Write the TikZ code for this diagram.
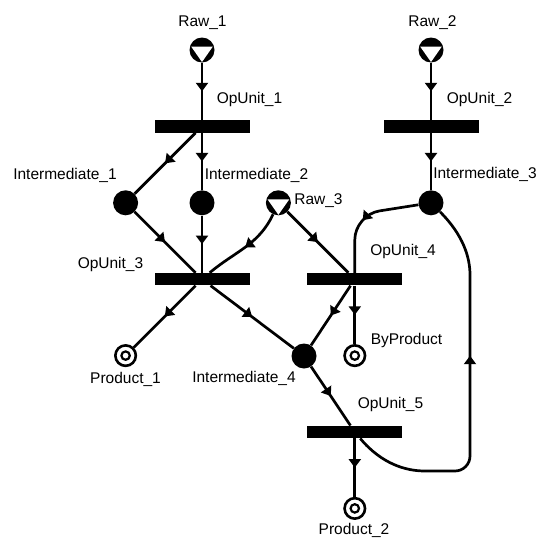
\documentclass[tikz,border=0pt]{standalone}
\usepackage{fontspec}
\setmainfont{Liberation Sans}
\usetikzlibrary{arrows.meta,decorations.markings,calc}

\begin{document}
\begin{tikzpicture}[x=1pt,y=1pt,node distance=76.4pt,
	raw/.style = {circle, fill=black, minimum size=25pt, inner sep=0pt,
		path picture={\fill[white] ([shift={(-10.8pt,3.4pt)}]path picture bounding box.center) -- ++(21.6pt,0) -- ([shift={(0,-12pt)}]path picture bounding box.center) -- cycle;}},
	inter/.style = {circle, fill=black, minimum size=25pt, inner sep=0pt},
	prod/.style = {circle, draw, line width=2.6pt, minimum size=20.5pt, inner sep=0pt,
		path picture={\draw[line width=2.2pt] (path picture bounding box.center) circle (4.2pt);}},
	unit/.style = {rectangle, fill=black, minimum width=95pt, minimum height=12.5pt, inner sep=0pt},
	txt/.style = {font=\fontsize{15.5}{18}\selectfont, anchor=base, inner sep=0pt},
	flow/.style = {line width=2.7pt, decoration={markings, mark=at position #1 with {\arrow{Triangle[width=12pt,length=8.5pt]}}}, postaction={decorate}},
	flow/.default=0.5]
	\useasboundingbox (0,0) rectangle (538,-538);
	\node[raw] (raw1) at (202,-50) {};
	\node[unit, below of=raw1] (op1) {};
	\node[inter, below of=op1] (int2) {};
	\node[inter, left of=int2] (int1) {};
	\node[raw, right of=int2] (raw3) {};
	\node[unit, below of=int2] (op3) {};
	\node[unit, right of=op3, xshift=76.4pt] (op4) {};
	\node[prod, below of=op4] (byprod) {};
	\node[unit, below of=byprod] (op5) {};
	\node[prod, below of=op5] (prod2) {};
	\node[prod, below of=int1, yshift=-76.4pt] (prod1) {};
	\node[inter] (int4) at (304,-356) {};
	\node[raw] (raw2) at (431,-50) {};
	\node[unit, below of=raw2] (op2) {};
	\node[inter, below of=op2] (int3) {};
	% labels
	\node[txt] (lraw1) at (202.5,-26.5) {Raw\_1};
	\node[txt] (lraw2) at (432.5,-26.5) {Raw\_2};
	\node[txt] (lraw3) at (318.5,-204.5) {Raw\_3};
	\node[txt] (lop1) at (249.5,-103.5) {OpUnit\_1};
	\node[txt] (lop2) at (479.5,-103.5) {OpUnit\_2};
	\node[txt] (lop3) at (110.5,-268.5) {OpUnit\_3};
	\node[txt] (lop4) at (403,-255.5) {OpUnit\_4};
	\node[txt] (lop5) at (390.5,-408.5) {OpUnit\_5};
	\node[txt] (lint1) at (65,-179.5) {Intermediate\_1};
	\node[txt] (lint2) at (256.5,-179.5) {Intermediate\_2};
	\node[txt] (lint3) at (485,-178.5) {Intermediate\_3};
	\node[txt] (lint4) at (244,-382.5) {Intermediate\_4};
	\node[txt] (lbyprod) at (406.5,-344.5) {ByProduct};
	\node[txt] (lprod1) at (125.5,-383.5) {Product\_1};
	\node[txt] (lprod2) at (354,-534) {Product\_2};
	% flows
	\draw[flow] (raw1) -- (op1);
	\draw[flow] (op1) -- (int1);
	\draw[flow] (op1) -- (int2);
	\draw[flow] (raw2) -- (op2);
	\draw[flow] (op2) -- (int3);
	\draw[flow] (int1) -- (op3);
	\draw[flow] (int2) -- (op3);
	\draw[flow] (raw3) to[out=-115,in=40] (op3);
	\draw[flow] (raw3) -- (op4);
	\draw[flow=0.52, rounded corners=25pt] (int3) -- ($(op4 |- int3)+(0,-12)$) -- (op4);
	\draw[flow] (op4) -- (byprod);
	\draw[flow] (op4) -- (int4);
	\draw[flow] (op3) -- (int4);
	\draw[flow] (op3) -- (prod1);
	\draw[flow] (int4) -- (op5);
	\draw[flow] (op5) -- (prod2);
	\draw[flow=0.6, rounded corners=15pt] (op5) to[out=-50,in=180] (440,-471) -- (470,-471) -- (470,-290) to[out=90,in=-45] (int3);
\end{tikzpicture}
\end{document}
